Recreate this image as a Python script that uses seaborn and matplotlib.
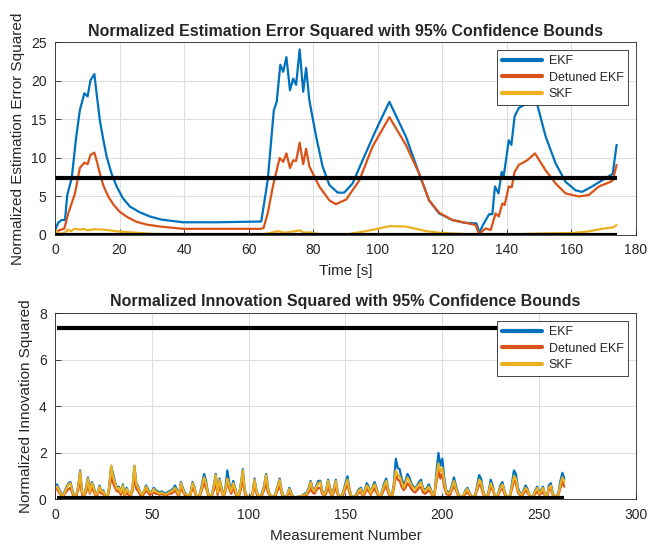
import numpy as np
import pandas as pd
import matplotlib
matplotlib.use("Agg")
import matplotlib.pyplot as plt
import seaborn as sns
from matplotlib.lines import Line2D

# ---------------- data: NEES (top) ----------------
ekf_t = [0, 1.0, 2.1, 3.1, 3.8, 5.2, 6.5, 7.7, 9.1, 10.1, 11.0, 12.2, 13.0, 13.9, 15.0, 16.0, 17.5, 19.1,
         21.0, 23.2, 26.0, 29.4, 33.0, 39.7, 50.0, 63.9,
         65.9, 67.8, 68.7, 69.8, 70.7, 71.7, 72.8, 73.8, 74.7, 75.8, 76.9, 77.8, 78.8, 80.9, 82.9, 85.0,
         87.6, 89.6, 92.2, 95.3, 99.4, 103.6, 108.7, 112.8, 115.9, 119.0, 123.1, 126.7, 130.6, 131.5,
         132.6, 134.5, 135.5, 136.3, 137.4, 138.4, 139.0, 140.6, 141.4, 142.4, 143.7, 145.8, 148.4, 149.2,
         152.0, 155.1, 158.2, 161.3, 163.3, 166.4, 169.5, 172.3, 172.8, 174.0]
ekf_v = [0.6, 1.6, 1.95, 1.95, 5.2, 7.4, 12.5, 16.2, 18.4, 18.0, 20.1, 20.9, 18.0, 14.9, 12.3, 10.2, 8.0, 6.3,
         4.8, 3.7, 3.0, 2.4, 2.0, 1.65, 1.65, 1.75,
         7.1, 16.2, 17.3, 22.1, 21.2, 23.1, 18.8, 20.3, 19.5, 24.1, 18.6, 21.7, 17.5, 12.8, 8.9, 6.5,
         5.5, 5.5, 6.7, 9.7, 13.6, 17.3, 12.8, 8.0, 4.5, 2.8, 1.95, 1.6, 1.5, 0.3,
         1.3, 2.7, 2.7, 6.3, 5.4, 8.2, 7.6, 12.3, 11.7, 15.4, 16.5, 17.0, 17.3, 17.3,
         12.8, 9.3, 6.9, 5.8, 5.6, 6.3, 7.1, 7.8, 8.0, 11.7]

det_t = [0, 2.9, 4.1, 6.2, 7.7, 9.1, 10.1, 11.0, 12.2, 13.0, 13.9, 15.0, 16.5, 18.2, 20.1, 22.5, 25.3, 28.5,
         32.5, 39.7, 63.7,
         64.6, 65.9, 67.5, 69.6, 70.7, 71.7, 72.8, 73.8, 74.7, 75.8, 76.9, 77.8, 78.8, 81.9, 85.0,
         87.0, 90.2, 94.3, 98.4, 103.6, 108.7, 112.8, 115.9, 119.0, 123.1, 130.3, 131.2,
         131.6, 133.4, 135.0, 136.5, 137.5, 138.6, 139.3, 140.6, 141.5, 142.4, 143.7, 146.3, 148.7,
         152.0, 155.1, 158.2, 162.3, 165.4, 168.5, 172.1, 172.8, 174.0]
det_v = [0.4, 0.85, 2.8, 5.4, 8.7, 9.4, 9.2, 10.4, 10.7, 9.5, 8.0, 6.4, 5.0, 3.9, 3.0, 2.3, 1.7, 1.35,
         1.1, 0.8, 0.8,
         0.9, 2.8, 6.3, 10.0, 9.5, 10.6, 8.7, 9.7, 9.6, 12.0, 9.2, 11.2, 8.9, 6.3, 4.5,
         4.0, 4.6, 7.1, 11.5, 15.3, 11.7, 8.0, 4.5, 2.9, 1.95, 1.3, 0.3,
         0.2, 0.85, 0.65, 2.8, 2.4, 4.1, 3.9, 6.3, 6.2, 8.2, 9.1, 9.7, 10.6,
         8.4, 6.7, 5.4, 5.0, 5.2, 6.3, 6.9, 7.1, 9.1]

skf_t = [0, 1.5, 3, 4, 5, 6, 8, 9, 10, 12, 15, 20, 25, 30, 40, 60, 64, 67, 69, 71, 73, 76, 77, 79, 82,
         90, 95, 100, 103.6, 108.7, 115, 119, 130, 140, 150, 160, 165, 169.5, 173, 174]
skf_v = [0.6, 0.1, 0.3, 0.7, 0.5, 0.8, 0.7, 0.8, 0.6, 0.75, 0.7, 0.45, 0.3, 0.15, 0.05, 0.02, 0.05, 0.3,
         0.5, 0.3, 0.4, 0.6, 0.3, 0.35, 0.1, 0.05, 0.4, 0.8, 1.15, 1.1, 0.5, 0.3, 0.05, 0.05, 0.2, 0.25,
         0.45, 0.8, 1.0, 1.3]

nees_upper = 7.38
nees_lower = 0.05
nees_span = [0, 174]

# ---------------- data: NIS (bottom) ----------------
nis_ekf = [0.65,0.45,0.30,0.15,0.35,0.55,0.70,0.75,0.40,0.10,
0.20,0.60,1.25,0.30,0.20,0.50,0.95,0.35,0.75,0.55,
0.20,0.30,0.60,0.35,0.40,0.15,0.10,0.60,1.45,1.10,
0.75,0.50,0.55,0.30,0.65,0.20,0.50,0.30,0.20,0.50,
1.45,0.70,0.55,0.30,0.20,0.35,0.60,0.45,0.30,0.35,
0.50,0.40,0.35,0.30,0.35,0.30,0.25,0.30,0.35,0.40,
0.45,0.60,0.40,0.20,0.75,0.50,0.30,0.20,0.15,0.30,
0.75,0.55,0.15,0.10,0.30,0.70,1.10,0.80,0.30,0.15,
0.20,0.60,1.10,0.30,0.90,0.50,0.15,0.50,1.25,0.70,
0.40,0.80,0.50,0.15,0.20,0.70,1.30,0.40,0.15,0.10,
0.10,0.30,0.90,0.40,0.15,0.15,0.30,0.60,1.10,0.50,
0.20,0.15,0.10,0.30,0.60,0.90,0.40,0.15,0.10,0.20,
0.50,0.30,0.10,0.05,0.10,0.15,0.10,0.20,0.25,0.30,
0.50,0.80,0.50,0.40,0.60,0.80,0.80,0.40,0.20,0.40,
0.85,0.50,0.20,0.50,0.85,0.30,0.10,0.15,0.40,0.70,
1.00,0.50,0.15,0.10,0.15,0.30,0.45,0.50,0.25,0.40,
0.70,0.55,0.30,0.55,0.75,0.50,0.20,0.15,0.40,0.70,
0.90,0.50,0.15,0.20,0.70,1.75,1.35,1.30,0.90,0.60,
0.80,1.10,0.95,0.70,0.55,0.50,0.60,0.75,0.85,0.50,
0.40,0.50,0.65,0.45,0.20,0.30,1.20,2.00,1.45,1.75,
0.90,0.40,0.30,0.35,0.60,0.95,0.60,0.30,0.15,0.10,
0.20,0.40,0.50,0.30,0.15,0.10,0.20,0.60,1.05,0.90,
0.40,0.15,0.10,0.40,0.85,0.60,0.20,0.10,0.30,0.60,
0.75,0.40,0.15,0.10,0.20,0.70,1.25,1.10,0.50,0.30,
0.20,0.40,0.60,0.45,0.20,0.10,0.15,0.40,0.55,0.30,
0.40,0.55,0.20,0.10,0.60,0.70,0.30,0.10,0.15,0.30,
0.80,1.15,0.90]

nis_det = [0.45,0.30,0.20,0.10,0.25,0.35,0.45,0.50,0.25,0.05,
0.15,0.40,0.80,0.20,0.15,0.30,0.60,0.25,0.50,0.35,
0.15,0.20,0.40,0.25,0.25,0.10,0.05,0.40,0.95,0.70,
0.50,0.35,0.35,0.20,0.40,0.15,0.30,0.20,0.15,0.35,
0.95,0.45,0.35,0.20,0.15,0.25,0.40,0.30,0.20,0.25,
0.30,0.25,0.25,0.20,0.25,0.20,0.15,0.20,0.25,0.25,
0.30,0.40,0.25,0.15,0.50,0.35,0.20,0.15,0.10,0.20,
0.50,0.35,0.10,0.05,0.20,0.45,0.70,0.50,0.20,0.10,
0.15,0.40,0.70,0.20,0.60,0.35,0.10,0.35,0.80,0.45,
0.25,0.50,0.30,0.10,0.15,0.45,0.85,0.25,0.10,0.05,
0.05,0.20,0.60,0.25,0.10,0.10,0.20,0.40,0.70,0.30,
0.15,0.10,0.05,0.20,0.40,0.60,0.25,0.10,0.05,0.15,
0.30,0.20,0.05,0.03,0.05,0.10,0.05,0.15,0.15,0.20,
0.30,0.50,0.30,0.25,0.40,0.50,0.50,0.25,0.15,0.25,
0.55,0.30,0.15,0.30,0.55,0.20,0.05,0.10,0.25,0.45,
0.65,0.30,0.10,0.05,0.10,0.20,0.30,0.30,0.15,0.25,
0.45,0.35,0.20,0.35,0.50,0.30,0.15,0.10,0.25,0.45,
0.60,0.30,0.10,0.15,0.45,1.10,0.85,0.80,0.55,0.40,
0.50,0.70,0.60,0.45,0.35,0.30,0.40,0.50,0.55,0.30,
0.25,0.30,0.40,0.30,0.15,0.20,0.75,1.30,0.90,1.10,
0.55,0.25,0.20,0.20,0.40,0.60,0.40,0.20,0.10,0.05,
0.15,0.25,0.30,0.20,0.10,0.05,0.15,0.40,0.65,0.55,
0.25,0.10,0.05,0.25,0.55,0.40,0.15,0.05,0.20,0.40,
0.50,0.25,0.10,0.05,0.15,0.45,0.80,0.70,0.30,0.20,
0.15,0.25,0.40,0.30,0.15,0.05,0.10,0.25,0.35,0.20,
0.25,0.35,0.15,0.05,0.40,0.45,0.20,0.05,0.10,0.20,
0.50,0.75,0.55]

nis_skf = [0.55,0.40,0.25,0.15,0.30,0.50,0.65,0.70,0.35,0.10,
0.20,0.55,1.20,0.30,0.20,0.45,0.90,0.30,0.70,0.50,
0.20,0.25,0.55,0.35,0.35,0.15,0.10,0.55,1.45,1.00,
0.70,0.45,0.50,0.30,0.60,0.20,0.45,0.30,0.20,0.50,
1.45,0.65,0.50,0.30,0.20,0.35,0.55,0.40,0.30,0.30,
0.45,0.35,0.30,0.25,0.30,0.25,0.20,0.25,0.30,0.35,
0.40,0.50,0.35,0.20,0.70,0.45,0.25,0.20,0.15,0.25,
0.70,0.50,0.15,0.10,0.25,0.60,0.95,0.70,0.25,0.15,
0.20,0.55,1.05,0.30,0.85,0.45,0.15,0.45,0.90,0.60,
0.35,0.70,0.45,0.15,0.20,0.65,1.25,0.35,0.15,0.10,
0.10,0.25,0.85,0.35,0.15,0.15,0.25,0.55,1.05,0.45,
0.20,0.15,0.10,0.25,0.55,0.85,0.35,0.15,0.10,0.20,
0.45,0.25,0.10,0.05,0.10,0.15,0.10,0.20,0.20,0.25,
0.45,0.75,0.45,0.35,0.55,0.70,0.75,0.35,0.20,0.35,
0.80,0.45,0.20,0.45,0.80,0.25,0.10,0.15,0.35,0.60,
0.85,0.45,0.15,0.10,0.15,0.25,0.40,0.45,0.20,0.35,
0.60,0.50,0.25,0.50,0.65,0.45,0.20,0.15,0.35,0.60,
0.80,0.45,0.15,0.20,0.60,1.25,1.05,1.00,0.75,0.50,
0.70,0.95,0.80,0.60,0.50,0.45,0.55,0.65,0.75,0.45,
0.35,0.45,0.55,0.40,0.20,0.25,1.00,1.55,1.20,1.35,
0.75,0.35,0.25,0.30,0.50,0.80,0.50,0.25,0.15,0.10,
0.20,0.35,0.45,0.25,0.15,0.10,0.20,0.50,0.85,0.75,
0.35,0.15,0.10,0.35,0.70,0.50,0.20,0.10,0.25,0.50,
0.65,0.35,0.15,0.10,0.20,0.60,1.00,0.90,0.40,0.25,
0.20,0.35,0.50,0.40,0.20,0.10,0.15,0.35,0.50,0.25,
0.35,0.50,0.20,0.10,0.50,0.60,0.25,0.10,0.15,0.25,
0.65,0.95,0.75]

nis_upper = 7.38
nis_lower = 0.05

series_names = ["EKF", "Detuned EKF", "SKF"]
colors = ["#0072BD", "#D95319", "#EDB120"]

top_title = "Normalized Estimation Error Squared with 95% Confidence Bounds"
bot_title = "Normalized Innovation Squared with 95% Confidence Bounds"

# ---------------- style ----------------
sns.set_style("whitegrid", {"grid.color": "#dedede", "axes.edgecolor": "#262626",
                            "xtick.direction": "in", "ytick.direction": "in",
                            "xtick.bottom": True, "ytick.left": True})
plt.rcParams["font.family"] = ["Liberation Sans", "DejaVu Sans"]

fig = plt.figure(figsize=(6.57, 5.46), dpi=100)
ax1 = fig.add_axes([0.0837, 0.5696, 0.8843, 0.3526])
ax2 = fig.add_axes([0.0837, 0.0852, 0.8843, 0.3408])

# top
top_df = pd.concat([
    pd.DataFrame({"t": ekf_t, "v": ekf_v, "s": series_names[0]}),
    pd.DataFrame({"t": det_t, "v": det_v, "s": series_names[1]}),
    pd.DataFrame({"t": skf_t, "v": skf_v, "s": series_names[2]}),
])
sns.lineplot(data=top_df, x="t", y="v", hue="s", palette=colors, sort=False,
             estimator=None, linewidth=1.6, ax=ax1, legend=False)
ax1.plot(nees_span, [nees_upper, nees_upper], color="black", lw=3, solid_capstyle="butt")
ax1.plot(nees_span, [nees_lower, nees_lower], color="black", lw=3, solid_capstyle="butt")

# bottom
m = np.arange(1, len(nis_ekf) + 1)
bot_df = pd.concat([
    pd.DataFrame({"m": m, "v": nis_ekf, "s": series_names[0]}),
    pd.DataFrame({"m": m, "v": nis_det, "s": series_names[1]}),
    pd.DataFrame({"m": m, "v": nis_skf, "s": series_names[2]}),
])
sns.lineplot(data=bot_df, x="m", y="v", hue="s", palette=colors, sort=False,
             estimator=None, linewidth=1.6, ax=ax2, legend=False)
ax2.plot([m[0], m[-1]], [nis_upper, nis_upper], color="black", lw=3, solid_capstyle="butt")
ax2.plot([m[0], m[-1]], [nis_lower, nis_lower], color="black", lw=3, solid_capstyle="butt")

handles = [Line2D([0], [0], color=c, lw=3) for c in colors]

for ax, xl, yl, title, xlim, ylim, xt, yt in [
        (ax1, "Time [s]", "Normalized Estimation Error Squared", top_title, (0, 180), (0, 25),
         range(0, 181, 20), range(0, 26, 5)),
        (ax2, "Measurement Number", "Normalized Innovation Squared", bot_title, (0, 300), (0, 8),
         range(0, 301, 50), range(0, 9, 2))]:
    ax.set_xlim(*xlim)
    ax.set_ylim(*ylim)
    ax.set_xticks(list(xt))
    ax.set_yticks(list(yt))
    ax.set_xlabel(xl, fontsize=11, labelpad=5, color="#262626")
    ax.set_ylabel(yl, fontsize=11, labelpad=4, color="#262626")
    ax.set_title(title, fontsize=11.5, fontweight="bold", pad=5)
    ax.tick_params(labelsize=10, length=4, width=0.6, color="#262626", labelcolor="#262626", pad=6)
    for sp in ax.spines.values():
        sp.set_linewidth(0.6)
    ax.grid(True, color="#dedede", lw=0.8)
    leg = ax.legend(handles, series_names, loc="upper right", fontsize=9, frameon=True,
                    fancybox=False, edgecolor="#262626", framealpha=1.0, handlelength=3.2,
                    borderaxespad=0.6, labelspacing=0.38, handletextpad=0.5,
                    borderpad=0.4)
    leg.get_frame().set_linewidth(0.6)
    leg.set_zorder(10)

fig.savefig("out.png", dpi=100)
